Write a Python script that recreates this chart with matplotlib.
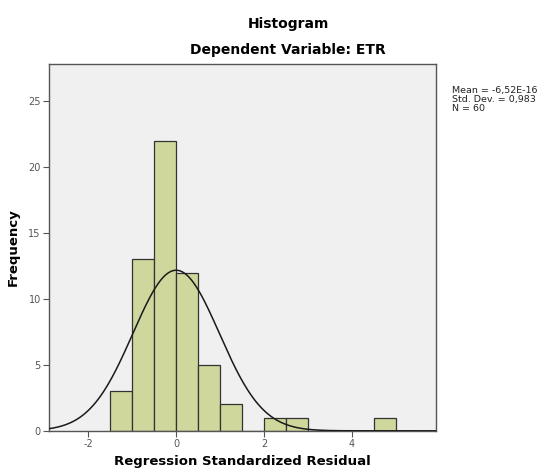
import numpy as np
import matplotlib
matplotlib.use('Agg')
import matplotlib.pyplot as plt

plt.rcParams['axes.unicode_minus'] = False

# histogram bins (width 0.5) and counts
bin_edges = [-1.5, -1.0, -0.5, 0.0, 0.5, 1.0, 1.5, 2.0, 2.5, 3.0, 3.5, 4.0, 4.5, 5.0]
counts = [3, 13, 22, 12, 5, 2, 0, 1, 1, 0, 0, 0, 1]

mean_val = -6.52e-16
std_val = 0.983
n_val = 60
bin_width = 0.5

x_ticks = [-2, 0, 2, 4]
y_ticks = [0, 5, 10, 15, 20, 25]

fig = plt.figure(figsize=(5.39, 4.75), dpi=100)
ax = fig.add_axes([0.091, 0.093, 0.718, 0.772])
ax.set_facecolor('#f0f0f0')

lefts = np.array(bin_edges[:-1])
widths = np.diff(bin_edges)
ax.bar(lefts, counts, width=widths, align='edge', color='#d0d79c',
       edgecolor='#333333', linewidth=0.9, zorder=2)

# fitted normal curve
xs = np.linspace(-2.9, 5.9, 400)
ys = n_val * bin_width / (std_val * np.sqrt(2 * np.pi)) * np.exp(-0.5 * ((xs - mean_val) / std_val) ** 2)
ax.plot(xs, ys, color='#1a1a1a', linewidth=1.1, zorder=3)

ax.set_xlim(-2.89, 5.91)
ax.set_ylim(0, 27.8)
ax.set_xticks(x_ticks)
ax.set_yticks(y_ticks)
ax.tick_params(labelsize=7, colors='#555555', length=4, width=0.8, pad=2)
for s in ax.spines.values():
    s.set_color('#555555')
    s.set_linewidth(1.0)

ax.set_xlabel('Regression Standardized Residual', fontsize=9.5, fontweight='bold', labelpad=4)
ax.set_ylabel('Frequency', fontsize=9.5, fontweight='bold', labelpad=6)

fig.text(0.535, 0.949, 'Histogram', ha='center', va='center', fontsize=10, fontweight='bold')
fig.text(0.535, 0.894, 'Dependent Variable: ETR', ha='center', va='center', fontsize=10, fontweight='bold')

fig.text(0.838, 0.818, 'Mean = -6,52E-16\nStd. Dev. = 0,983\nN = 60',
         ha='left', va='top', fontsize=6.8, linespacing=0.95, color='#222222')

plt.savefig('out.png', dpi=100)
